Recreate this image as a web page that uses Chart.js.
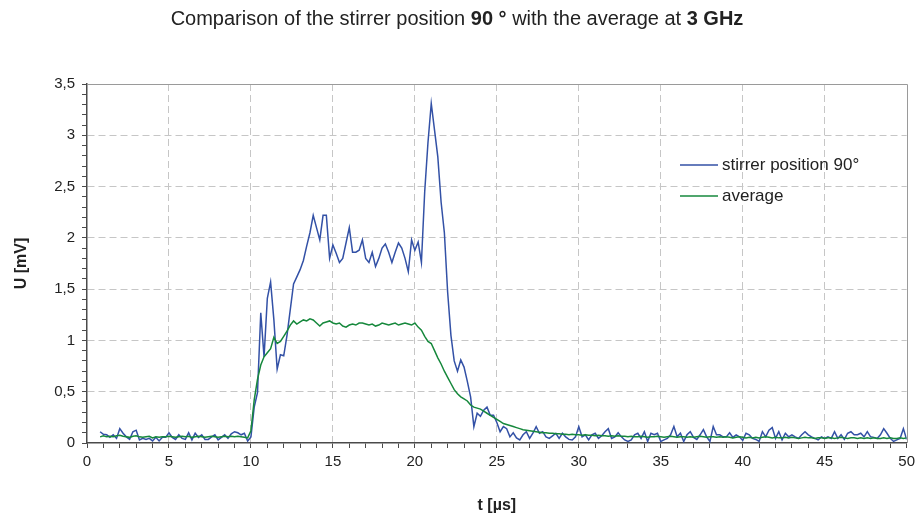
<!DOCTYPE html>
<html>
<head>
<meta charset="utf-8">
<script src="https://cdn.jsdelivr.net/npm/chart.js@4.4.1/dist/chart.umd.min.js"></script>
<style>
  html, body { margin: 0; padding: 0; background: #fff; }
  #wrap { width: 920px; height: 519px; position: relative; }
</style>
</head>
<body>
<div id="wrap"><canvas id="chart"></canvas></div>
<script>

const T_START = 0.8;
const T_STEP = 0.2;

const titleParts = [
  ['Comparison of the stirrer position ', false],
  ['90 °', true],
  [' with the average at ', false],
  ['3 GHz', true],
];
const seriesLabels = ['stirrer position 90°', 'average'];
const xTitle = 't [µs]';
const yTitle = 'U [mV]';

const stirrer90 = [
  0.11, 0.085, 0.08, 0.055, 0.08, 0.045, 0.14, 0.095, 0.06, 0.035,
  0.11, 0.125, 0.03, 0.045, 0.035, 0.045, 0.02, 0.055, 0.02, 0.055,
  0.055, 0.10, 0.055, 0.035, 0.08, 0.045, 0.035, 0.10, 0.03, 0.095,
  0.055, 0.08, 0.035, 0.035, 0.06, 0.08, 0.03, 0.055, 0.08, 0.045,
  0.09, 0.11, 0.10, 0.08, 0.095, 0.02, 0.06, 0.35, 0.49, 1.27,
  0.84, 1.41, 1.57, 1.20, 0.72, 0.86, 0.85, 1.05, 1.30, 1.55,
  1.62, 1.69, 1.78, 1.92, 2.05, 2.22, 2.10, 1.98, 2.22, 2.22,
  1.80, 1.93, 1.85, 1.76, 1.80, 1.95, 2.10, 1.86, 1.86, 1.88,
  1.98, 1.80, 1.76, 1.86, 1.72, 1.80, 1.90, 1.94, 1.86, 1.76,
  1.86, 1.95, 1.90, 1.80, 1.67, 1.98, 1.88, 1.96, 1.76, 2.45,
  2.93, 3.31, 3.05, 2.79, 2.35, 2.05, 1.47, 1.05, 0.80, 0.70,
  0.81, 0.74, 0.60, 0.45, 0.16, 0.29, 0.26, 0.32, 0.35, 0.27,
  0.27, 0.20, 0.11, 0.16, 0.14, 0.06, 0.10, 0.05, 0.03, 0.08,
  0.11, 0.045, 0.095, 0.16, 0.095, 0.11, 0.06, 0.045, 0.07, 0.095,
  0.045, 0.095, 0.06, 0.035, 0.03, 0.06, 0.16, 0.06, 0.08, 0.03,
  0.08, 0.095, 0.045, 0.07, 0.11, 0.14, 0.045, 0.06, 0.10, 0.06,
  0.03, 0.015, 0.03, 0.08, 0.095, 0.045, 0.11, 0.015, 0.095, 0.08,
  0.095, 0.015, 0.03, 0.045, 0.08, 0.16, 0.06, 0.095, 0.015, 0.08,
  0.11, 0.055, 0.035, 0.08, 0.13, 0.06, 0.015, 0.16, 0.08, 0.08,
  0.06, 0.06, 0.10, 0.055, 0.08, 0.06, 0.025, 0.095, 0.08, 0.045,
  0.035, 0.015, 0.11, 0.06, 0.125, 0.15, 0.045, 0.11, 0.03, 0.095,
  0.06, 0.08, 0.06, 0.045, 0.08, 0.11, 0.08, 0.06, 0.045, 0.03,
  0.06, 0.045, 0.06, 0.045, 0.11, 0.045, 0.08, 0.035, 0.095, 0.11,
  0.08, 0.08, 0.095, 0.06, 0.11, 0.06, 0.055, 0.045, 0.08, 0.14,
  0.095, 0.045, 0.015, 0.03, 0.045, 0.14, 0.035,
];

const average = [
  0.06, 0.07, 0.06, 0.065, 0.06, 0.07, 0.075, 0.065, 0.06, 0.055,
  0.065, 0.07, 0.06, 0.055, 0.06, 0.065, 0.05, 0.06, 0.055, 0.06,
  0.06, 0.065, 0.06, 0.055, 0.06, 0.065, 0.06, 0.065, 0.055, 0.06,
  0.065, 0.06, 0.055, 0.06, 0.065, 0.06, 0.055, 0.06, 0.065, 0.06,
  0.065, 0.06, 0.065, 0.06, 0.055, 0.05, 0.12, 0.42, 0.62, 0.76,
  0.84, 0.88, 0.92, 1.03, 0.97, 0.99, 1.04, 1.09, 1.15, 1.19,
  1.16, 1.18, 1.20, 1.19, 1.21, 1.20, 1.17, 1.14, 1.17, 1.18,
  1.19, 1.17, 1.16, 1.17, 1.14, 1.13, 1.15, 1.16, 1.15, 1.17,
  1.17, 1.16, 1.15, 1.16, 1.14, 1.15, 1.17, 1.16, 1.15, 1.16,
  1.17, 1.15, 1.16, 1.17, 1.16, 1.15, 1.17, 1.13, 1.10, 1.04,
  0.99, 0.97, 0.90, 0.83, 0.77, 0.70, 0.64, 0.58, 0.52, 0.48,
  0.45, 0.43, 0.41, 0.37, 0.35, 0.34, 0.33, 0.31, 0.29, 0.27,
  0.25, 0.23, 0.21, 0.19, 0.18, 0.17, 0.16, 0.15, 0.14, 0.13,
  0.125, 0.12, 0.115, 0.11, 0.105, 0.10, 0.10, 0.095, 0.095, 0.09,
  0.09, 0.085, 0.085, 0.08, 0.085, 0.08, 0.08, 0.075, 0.08, 0.075,
  0.075, 0.07, 0.075, 0.07, 0.07, 0.065, 0.07, 0.065, 0.07, 0.065,
  0.065, 0.06, 0.065, 0.06, 0.06, 0.065, 0.06, 0.055, 0.06, 0.06,
  0.065, 0.06, 0.055, 0.06, 0.065, 0.06, 0.055, 0.06, 0.06, 0.055,
  0.06, 0.055, 0.06, 0.065, 0.06, 0.055, 0.06, 0.06, 0.055, 0.06,
  0.055, 0.06, 0.055, 0.05, 0.055, 0.06, 0.055, 0.05, 0.055, 0.05,
  0.055, 0.05, 0.055, 0.06, 0.055, 0.05, 0.055, 0.05, 0.05, 0.055,
  0.05, 0.055, 0.05, 0.045, 0.05, 0.055, 0.05, 0.05, 0.045, 0.05,
  0.05, 0.045, 0.05, 0.05, 0.045, 0.05, 0.055, 0.05, 0.045, 0.05,
  0.05, 0.045, 0.05, 0.045, 0.05, 0.045, 0.05, 0.045, 0.045, 0.05,
  0.045, 0.05, 0.045, 0.045, 0.05, 0.045, 0.05,
];

// --- styling ---

const FONT = '"Liberation Sans", Arial, sans-serif';
const BLUE = '#3351a6';
const GREEN = '#16883c';
const GRID = '#c6c6c6';
const AXIS = '#4a4a4a';

function toPoints(values) {
  return values.map((v, i) => ({ x: +(T_START + i * T_STEP).toFixed(1), y: v }));
}

function fmtComma(v) {
  return String(Math.round(v * 10) / 10).replace('.', ',');
}

// title, legend and the top/right frame lines
const decorPlugin = {
  id: 'decor',
  beforeDatasetsDraw(chart) {
    const { ctx, chartArea: a } = chart;
    ctx.save();
    ctx.strokeStyle = '#9a9a9a';
    ctx.lineWidth = 1;
    ctx.beginPath();
    ctx.moveTo(Math.round(a.left), Math.round(a.top) + 0.5);
    ctx.lineTo(Math.round(a.right) + 0.5, Math.round(a.top) + 0.5);
    ctx.lineTo(Math.round(a.right) + 0.5, Math.round(a.bottom));
    ctx.stroke();
    ctx.restore();
  },
  afterDraw(chart) {
    const { ctx, chartArea: a } = chart;
    ctx.save();

    // Title with bold parts
    const size = 20;
    const fontOf = b => `${b ? 'bold ' : ''}${size}px ${FONT}`;
    let total = 0;
    titleParts.forEach(([t, b]) => { ctx.font = fontOf(b); total += ctx.measureText(t).width; });
    let x = 457 - total / 2;
    ctx.fillStyle = '#222';
    ctx.textBaseline = 'middle';
    ctx.textAlign = 'left';
    titleParts.forEach(([t, b]) => {
      ctx.font = fontOf(b);
      ctx.fillText(t, x, 19);
      x += ctx.measureText(t).width;
    });

    // Legend inside the plot area
    ctx.font = `17px ${FONT}`;
    chart.data.datasets.forEach((ds, i) => {
      const y = 165 + i * 31;
      const lx = a.left + 593;
      ctx.strokeStyle = ds.borderColor;
      ctx.lineWidth = 1.5;
      ctx.beginPath();
      ctx.moveTo(lx, y);
      ctx.lineTo(lx + 38, y);
      ctx.stroke();
      ctx.fillStyle = '#222';
      ctx.fillText(ds.label, lx + 42, y);
    });
    ctx.restore();
  }
};

const ctx = document.getElementById('chart').getContext('2d');

new Chart(ctx, {
  type: 'line',
  data: {
    datasets: [
      {
        label: seriesLabels[0],
        data: toPoints(stirrer90),
        borderColor: BLUE,
        borderWidth: 1.5,
        pointRadius: 0,
        tension: 0,
        order: 1,
      },
      {
        label: seriesLabels[1],
        data: toPoints(average),
        borderColor: GREEN,
        borderWidth: 1.5,
        pointRadius: 0,
        tension: 0,
        order: 0,
      },
    ],
  },
  options: {
    responsive: true,
    maintainAspectRatio: false,
    animation: false,
    events: [],
    layout: { padding: { top: 84, right: 12, left: 0, bottom: 0 } },
    plugins: {
      legend: { display: false },
      tooltip: { enabled: false },
      title: { display: false },
    },
    scales: {
      x: {
        type: 'linear',
        min: 0,
        max: 50,
        afterFit: s => { s.height = 76; },
        ticks: {
          stepSize: 1,
          autoSkip: false,
          maxRotation: 0,
          padding: 5,
          color: '#222',
          font: { family: FONT, size: 15 },
          callback: v => (v % 5 === 0 ? String(v) : ''),
        },
        grid: {
          drawTicks: true,
          tickLength: 5,
          tickColor: AXIS,
          tickBorderDash: [],
          color: c => (c.tick && c.tick.value % 5 === 0 && c.tick.value > 0 && c.tick.value < 50 ? GRID : 'rgba(0,0,0,0)'),
        },
        border: { display: true, color: AXIS, width: 1.5, dash: [7, 4] },
        title: {
          display: true,
          text: xTitle,
          color: '#222',
          font: { family: FONT, size: 16, weight: 'bold' },
          padding: { top: 0, bottom: 4 },
        },
      },
      y: {
        min: 0,
        max: 3.5,
        afterFit: s => { s.width = 87; },
        afterBuildTicks: s => {
          s.ticks = [];
          for (let i = 0; i <= 35; i++) s.ticks.push({ value: i / 10 });
        },
        ticks: {
          autoSkip: false,
          padding: 7,
          color: '#222',
          font: { family: FONT, size: 15 },
          callback: (v, i) => (i % 5 === 0 ? fmtComma(v) : ''),
        },
        grid: {
          drawTicks: true,
          tickLength: 5,
          tickColor: AXIS,
          tickBorderDash: [],
          color: c => (c.index % 5 === 0 && c.index > 0 && c.index < 35 ? GRID : 'rgba(0,0,0,0)'),
        },
        border: { display: true, color: AXIS, width: 1.5, dash: [7, 4] },
        title: {
          display: true,
          text: yTitle,
          color: '#222',
          font: { family: FONT, size: 16, weight: 'bold' },
          padding: { top: 12, bottom: 0 },
        },
      },
    },
  },
  plugins: [decorPlugin],
});
</script>
</body>
</html>
